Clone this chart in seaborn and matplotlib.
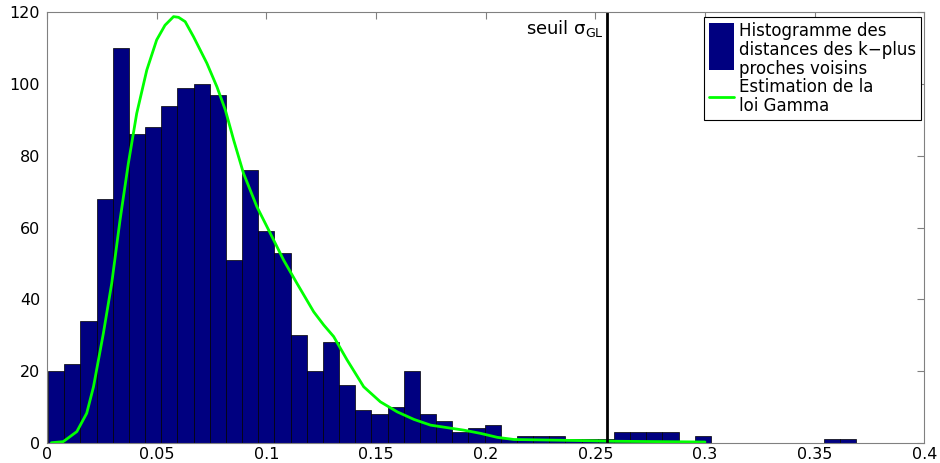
import matplotlib
matplotlib.use("Agg")
import matplotlib.pyplot as plt
import numpy as np
import pandas as pd
import seaborn as sns
from matplotlib.patches import Patch, Rectangle
from matplotlib.lines import Line2D
from matplotlib.legend_handler import HandlerBase

# histogram: 50 bins between the min and max distance
bin_lo, bin_hi, n_bins = 0.0005, 0.3690, 50
counts = [20, 22, 34, 68, 110, 86, 88, 94, 99, 100,
          97, 51, 76, 59, 53, 30, 20, 28, 16, 9,
          8, 10, 20, 8, 6, 3, 4, 5, 1, 2,
          2, 2, 1, 1, 1, 3, 3, 3, 3, 0,
          2, 0, 0, 0, 0, 0, 0, 0, 1, 1]

# gamma fit curve
gamma_x = [0.002, 0.0074, 0.0136, 0.0181, 0.0212, 0.0257, 0.0295, 0.0333, 0.0371, 0.0409,
           0.0455, 0.050, 0.0538, 0.0577, 0.060, 0.063, 0.0668, 0.0729, 0.0775, 0.0813,
           0.0851, 0.0896, 0.0957, 0.1018, 0.1079, 0.114, 0.1216, 0.1262, 0.1307, 0.1368,
           0.1444, 0.152, 0.1597, 0.1673, 0.1749, 0.1825, 0.1901, 0.1977, 0.2053, 0.2129,
           0.228, 0.2432, 0.26, 0.28, 0.30]
gamma_y = [0, 0.3, 3.1, 8.2, 15.6, 30.5, 44.4, 62.1, 77.9, 91.8,
           103.9, 112.3, 116.4, 118.8, 118.6, 117.4, 113.2, 105.8, 99.2, 92.8,
           84.4, 75.1, 65.8, 58.4, 50.9, 44.4, 36.5, 32.8, 29.6, 23.1,
           15.6, 11.4, 8.6, 6.5, 4.9, 4.2, 3.5, 2.6, 1.5, 0.9,
           0.75, 0.6, 0.4, 0.3, 0.2]

threshold = 0.2553
labels = ["Histogramme des\ndistances des k\u2212plus\nproches voisins",
          "Estimation de la\nloi Gamma"]

sns.set_style("white")
plt.rcParams["font.family"] = ["DejaVu Sans"]
plt.rcParams["text.color"] = "black"
plt.rcParams["xtick.color"] = "black"
plt.rcParams["ytick.color"] = "black"

edges = np.linspace(bin_lo, bin_hi, n_bins + 1)
hist_df = pd.DataFrame({"dist": (edges[:-1] + edges[1:]) / 2, "n": counts})

fig = plt.figure(figsize=(9.4, 4.63), dpi=100)
ax = fig.add_axes([0.05, 0.0438, 0.9333, 0.9296])

sns.histplot(data=hist_df, x="dist", weights="n", bins=list(edges), color="#000080",
             alpha=1, edgecolor="black", linewidth=0.5, ax=ax)
sns.lineplot(x=gamma_x, y=gamma_y, color="#00ff00", linewidth=2, ax=ax)
ax.axvline(threshold, color="black", linewidth=2)
ax.text(threshold - 0.0012, 114, "seuil $\\mathregular{\\sigma_{GL}}$", ha="right",
        va="baseline", fontsize=13)

ax.set_xlim(0, 0.4)
ax.set_ylim(0, 120)
ax.set_xticks([0, 0.05, 0.1, 0.15, 0.2, 0.25, 0.3, 0.35, 0.4])
ax.set_xticklabels(["0", "0.05", "0.1", "0.15", "0.2", "0.25", "0.3", "0.35", "0.4"])
ax.set_yticks(range(0, 121, 20))
ax.set_xlabel("")
ax.set_ylabel("")
ax.tick_params(direction="in", top=True, right=True, length=5, width=0.8,
               color="#808080", labelcolor="black", labelsize=11.5)
ax.tick_params(axis="x", pad=3)
ax.tick_params(axis="y", pad=5)
for s in ax.spines.values():
    s.set_color("#808080")
    s.set_linewidth(0.8)


class TallPatch(HandlerBase):
    # blue block spanning the three text lines
    def create_artists(self, legend, orig, xd, yd, w, h, fs, trans):
        r = Rectangle((-xd, -0.82 * fs), w, 2.86 * fs, facecolor="#000080",
                      edgecolor="none", transform=trans)
        return [r]


class LowLine(HandlerBase):
    # green line between the two text lines
    def create_artists(self, legend, orig, xd, yd, w, h, fs, trans):
        ln = Line2D([-xd, -xd + w], [0.38 * fs, 0.38 * fs], color="#00ff00",
                    linewidth=2, transform=trans)
        return [ln]


h_bar = Patch(facecolor="#000080")
h_line = Line2D([], [], color="#00ff00", linewidth=2)
leg = ax.legend([h_bar, h_line], labels, loc="upper right",
                bbox_to_anchor=(0.9966, 0.9898), borderaxespad=0,
                fontsize=12, handlelength=1.5, handletextpad=0.3,
                borderpad=0.3, labelspacing=0.0, fancybox=False,
                framealpha=1, edgecolor="black",
                handler_map={Patch: TallPatch(), Line2D: LowLine()})
leg.get_frame().set_linewidth(0.8)
for t in leg.get_texts():
    t.set_linespacing(1.07)

fig.savefig("out.png", dpi=100)
